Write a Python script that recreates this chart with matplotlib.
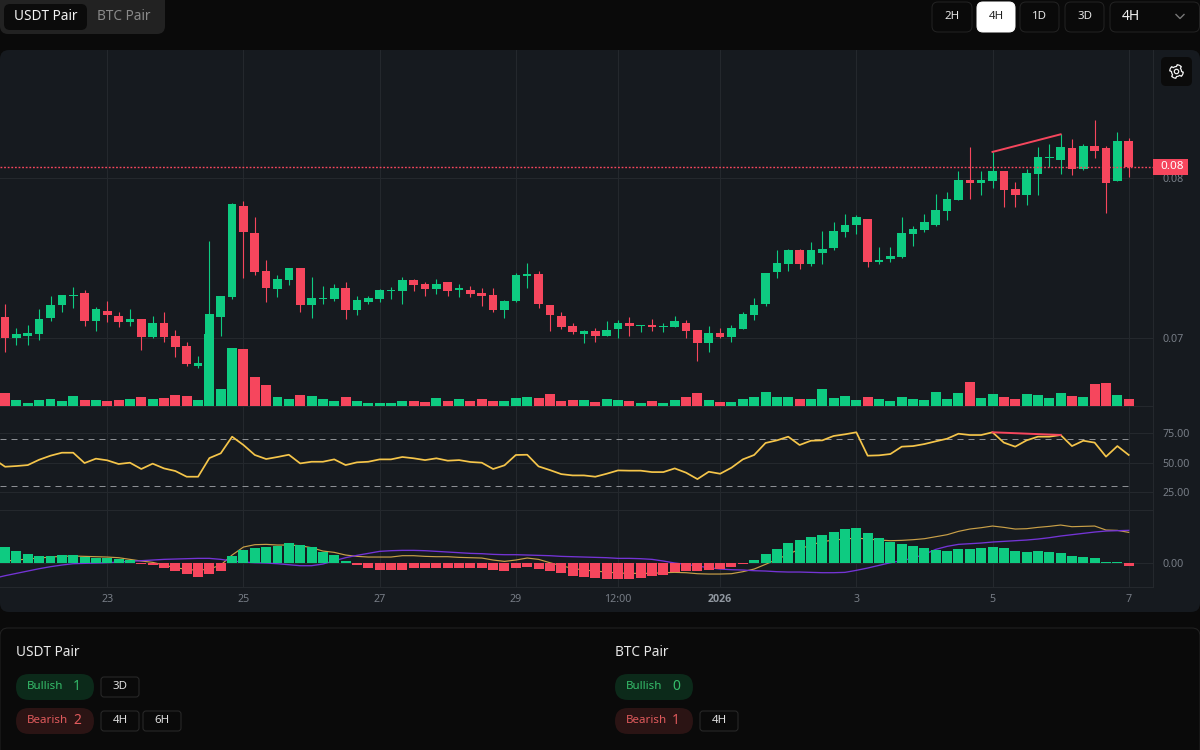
import numpy as np
import matplotlib
matplotlib.use('Agg')
import matplotlib.pyplot as plt
from matplotlib.patches import FancyBboxPatch, Rectangle, Circle, Polygon

plt.rcParams['font.family'] = ['Noto Sans', 'DejaVu Sans']

# prices, in units of 0.0001
open_vals = [713.3, 699.8, 701.2, 702.7, 712.7, 720.4, 726.2, 728.1, 710.4, 716.9,
             714.0, 709.8, 712.1, 700.4, 709.2, 701.0, 695.0, 682.7, 684.6, 713.3,
             725.6, 782.5, 765.6, 741.9, 730.4, 736.3, 743.8, 720.4, 724.4, 724.4,
             731.0, 717.5, 722.7, 724.4, 729.2, 729.2, 736.3, 733.8, 730.4, 735.0,
             730.2, 729.8, 728.1, 726.9, 717.5, 723.3, 738.5, 739.8, 720.8, 714.0,
             707.5, 702.7, 704.4, 701.5, 705.6, 709.2, 707.5, 708.1, 706.9, 706.9,
             709.2, 705.0, 696.9, 703.3, 700.4, 705.6, 714.4, 721.5, 741.5, 746.3,
             755.0, 746.3, 753.3, 756.3, 766.3, 770.4, 774.4, 747.5, 749.2, 750.4,
             765.0, 767.5, 770.8, 779.2, 786.3, 798.5, 796.9, 797.9, 804.4, 793.1,
             789.2, 802.7, 812.7, 811.5, 818.5, 805.6, 820.2, 818.5, 797.9, 823.1]
close_vals = [699.8, 702.3, 703.3, 712.1, 720.4, 726.9, 726.9, 710.4, 718.1, 714.4,
              709.8, 712.1, 700.4, 709.2, 700.4, 694.6, 684.0, 684.6, 715.0, 726.2,
              783.8, 766.2, 741.5, 731.5, 736.9, 743.8, 720.4, 725.0, 725.2, 731.0,
              717.5, 723.8, 725.0, 729.8, 730.0, 736.3, 733.1, 730.4, 733.8, 729.2,
              731.3, 727.5, 726.2, 717.5, 723.1, 739.2, 739.8, 721.5, 714.4, 706.9,
              703.8, 704.4, 701.5, 705.0, 709.2, 707.5, 708.1, 706.9, 707.5, 710.4,
              704.4, 696.9, 703.3, 700.4, 706.3, 715.0, 720.8, 740.8, 746.9, 755.0,
              746.3, 755.0, 755.6, 766.9, 770.8, 775.6, 747.5, 748.5, 751.0, 765.6,
              767.9, 772.7, 779.8, 786.9, 798.5, 796.9, 798.5, 804.4, 792.7, 789.2,
              803.1, 813.1, 813.1, 819.2, 805.6, 820.2, 816.9, 796.9, 823.1, 806.9]
high_vals = [721.0, 706.0, 708.1, 718.1, 726.2, 726.9, 732.1, 730.0, 719.4, 723.1,
             716.2, 718.1, 712.1, 714.0, 716.2, 705.0, 697.5, 688.7, 760.8, 726.2,
             784.4, 785.6, 775.4, 748.5, 739.2, 743.8, 743.8, 737.9, 732.7, 733.8,
             735.0, 726.2, 726.2, 730.8, 732.1, 737.9, 736.9, 735.0, 736.9, 735.0,
             733.8, 732.7, 731.0, 731.0, 723.8, 740.8, 746.9, 742.1, 720.8, 716.2,
             709.2, 705.0, 706.3, 710.4, 711.0, 713.3, 708.1, 712.1, 709.2, 714.0,
             711.0, 705.0, 707.5, 706.3, 708.1, 716.2, 725.0, 740.8, 755.0, 755.6,
             755.6, 759.8, 766.9, 772.7, 777.5, 776.9, 774.4, 756.9, 756.9, 775.6,
             769.8, 777.5, 789.8, 791.5, 804.4, 819.2, 804.4, 816.3, 804.4, 797.3,
             805.6, 819.2, 821.5, 827.3, 824.4, 821.5, 836.3, 820.2, 829.0, 825.0]
low_vals = [691.0, 695.6, 695.6, 698.7, 710.4, 716.2, 718.7, 707.5, 704.6, 709.8,
            706.9, 707.5, 692.7, 699.8, 697.5, 688.1, 682.7, 681.0, 684.0, 701.5,
            724.4, 737.5, 739.2, 722.7, 725.6, 733.1, 716.2, 712.7, 721.5, 723.1,
            711.7, 714.4, 721.5, 722.7, 724.4, 721.5, 729.2, 726.2, 727.5, 726.2,
            725.6, 725.6, 720.2, 716.2, 712.7, 722.7, 731.5, 718.5, 704.4, 705.6,
            702.7, 696.9, 697.5, 701.5, 699.8, 701.5, 703.8, 704.4, 703.8, 706.9,
            699.8, 685.6, 691.5, 699.8, 697.5, 705.6, 711.5, 719.8, 737.3, 742.1,
            743.3, 745.0, 746.3, 755.0, 763.3, 765.0, 744.4, 746.3, 747.5, 749.8,
            757.5, 766.3, 770.2, 773.8, 786.3, 786.9, 789.2, 793.8, 782.1, 782.1,
            783.1, 789.2, 806.9, 802.7, 802.1, 805.0, 812.7, 777.9, 797.9, 800.8]
volume = [13.3, 5.7, 3, 5.7, 6.7, 4.7, 10.3, 5.7, 5.7, 4.7,
          5.7, 6.7, 9.3, 6.7, 7.7, 11.3, 10.3, 5.7, 71.7, 17,
          58.3, 57.3, 29, 20.7, 9.3, 6.7, 11.3, 10.3, 6.7, 4.7,
          9.3, 4.7, 3, 3, 3, 4.7, 4.7, 3.7, 7.7, 4.7,
          6.7, 4.7, 6.7, 4.7, 4.7, 7.7, 8.7, 7.7, 12.3, 4.7,
          5.7, 5.7, 3.7, 6.7, 5.7, 4.7, 3, 4.7, 3, 5.7,
          9.3, 13.3, 5.7, 3.7, 3.7, 6.7, 8.7, 14, 9.3, 9.3,
          7.3, 7.3, 16.7, 8.3, 10.3, 6.3, 9.3, 7.3, 4.7, 9.3,
          7.3, 6.3, 14, 7.3, 13, 24.3, 8.3, 12, 9.3, 7.3,
          12, 11, 8.3, 13, 10.3, 9.3, 21.7, 22.7, 11, 6.7]

# line series start one bar before the first candle
rsi = [53.1, 46.6, 47.2, 48.0, 52.5, 55.9, 58.4, 58.4, 49.7, 53.4, 52.0,
       48.9, 50.0, 44.7, 49.2, 45.2, 43.0, 38.2, 38.2, 53.9, 57.9,
       71.9, 64.9, 56.5, 53.1, 54.8, 56.7, 49.4, 50.8, 50.8, 52.8,
       48.0, 50.3, 50.8, 52.8, 52.8, 54.8, 53.7, 52.2, 53.7, 51.7,
       52.2, 50.6, 50.0, 44.7, 47.8, 56.5, 56.7, 46.9, 43.8, 40.4,
       39.3, 39.3, 38.2, 40.7, 43.5, 43.3, 43.3, 42.1, 42.1, 45.2,
       41.6, 36.2, 42.4, 40.7, 45.8, 52.8, 56.5, 66.6, 68.8, 71.9,
       64.9, 68.5, 68.8, 72.5, 73.9, 75.6, 55.9, 56.2, 57.3, 63.5,
       64.0, 65.7, 68.0, 70.2, 74.4, 73.3, 73.3, 75.6, 66.9, 63.5,
       68.8, 71.9, 71.9, 73.3, 64.0, 68.5, 66.9, 55.1, 64.0, 56.5]
macd_line = [5, 7, 10, 13, 16, 19, 21, 22, 21, 20, 19,
             17, 12, 7, 3, -5, -13, -18, -21, -17, -5,
             25, 49, 56, 57, 55, 55, 53, 47, 37, 33,
             25, 21, 19, 19, 19, 23, 23, 21, 20, 20,
             18, 17, 16, 10, 6, 10, 16, 12, 2, -7,
             -15, -20, -23, -26, -29, -30, -30, -30, -28, -27,
             -28, -31, -32, -32, -31, -25, -17, -3, 12, 27,
             43, 55, 65, 70, 73, 76, 73, 70, 68, 69,
             71, 74, 80, 86, 96, 103, 107, 112, 108, 103,
             104, 108, 111, 115, 110, 111, 112, 100, 99, 93]
signal_line = [-45, -37, -30, -23, -16, -10, -5, -1, 0, 1, 2,
               4, 6, 8, 10, 12, 13, 14, 15, 15, 12,
               7, 4, 2, 1, -1, -4, -7, -7, -2, 8,
               17, 24, 30, 36, 38, 39, 39, 38, 36, 34,
               32, 30, 29, 27, 26, 26, 25, 24, 23, 21,
               20, 19, 18, 17, 15, 15, 14, 12, 7, 1,
               -3, -8, -13, -17, -19, -20, -22, -23, -25, -26,
               -26, -27, -28, -28, -27, -21, -14, -6, 2, 8,
               16, 27, 42, 51, 57, 59, 61, 64, 66, 68,
               70, 73, 77, 82, 86, 90, 94, 97, 98, 99]
macd_hist = [49, 37, 27, 21, 21, 24, 24, 18, 15, 15,
             13, 10, -2, -5, -13, -22, -32, -41, -32, -22,
             22, 41, 46, 50, 52, 60, 55, 49, 35, 24,
             7, -4, -13, -19, -19, -19, -15, -15, -15, -15,
             -15, -15, -15, -19, -22, -15, -10, -17, -22, -30,
             -38, -41, -44, -47, -47, -47, -44, -38, -35, -27,
             -22, -22, -20, -17, -10, -2, 10, 27, 44, 60,
             69, 80, 85, 93, 102, 105, 91, 76, 63, 57,
             51, 45, 40, 37, 43, 43, 45, 48, 45, 37,
             34, 37, 34, 31, 23, 20, 15, 4, 4, -8]

div_x = [87, 93]
div_price = [816.3, 827.3]
div_rsi = [75.6, 73.3]

tick_pos = [9, 21, 33, 45, 54, 63, 75, 87, 99]
tick_labels = ['23', '25', '27', '29', '12:00', '2026', '3', '5', '7']

GREEN = '#0ecb81'
RED = '#f6465d'
BG = '#0a0a0a'
PANEL = '#161a1f'
GRID = '#24282d'
TXT = '#777d86'
W, H = 1200, 750
XLIM = (-0.45, 101.14)
THIN = 0.72  # one pixel at 100 dpi


def ax_px(fig, top, bottom, right=1153):
    return fig.add_axes([0, 1 - bottom / H, right / W, (bottom - top) / H])


def box(ax, x0, y0, x1, y1, r, fc, ec='none', lw=THIN, z=1):
    ax.add_patch(FancyBboxPatch((x0, y0), x1 - x0, y1 - y0, boxstyle=f'round,pad=0,rounding_size={r}',
                                fc=fc, ec=ec, lw=lw, zorder=z))


def style_panel(ax):
    ax.set_facecolor('none')
    ax.set_xlim(*XLIM)
    ax.set_xticks(tick_pos)
    ax.grid(True, color=GRID, lw=THIN)
    ax.set_axisbelow(True)
    for s in ['top', 'left']:
        ax.spines[s].set_visible(False)
    for s in ['right', 'bottom']:
        ax.spines[s].set_color(GRID)
        ax.spines[s].set_linewidth(THIN)
    ax.yaxis.tick_right()
    ax.tick_params(axis='y', length=0, pad=6.5, labelsize=7.7, labelcolor=TXT)
    ax.tick_params(axis='x', length=0, labelbottom=False)


fig = plt.figure(figsize=(12, 7.5), dpi=100, facecolor=BG)

# page furniture, drawn in pixel coordinates
ui = fig.add_axes([0, 0, 1, 1], zorder=0)
ui.set_xlim(0, W)
ui.set_ylim(H, 0)
ui.axis('off')

box(ui, 0, 50, 1200, 612, 9, PANEL)

box(ui, 0, -10, 165, 34, 8, '#222222')
box(ui, 4, 4, 87, 30, 6, '#0b0b0b')
ui.text(45.5, 17, 'USDT Pair', color='#f2f2f2', fontsize=9.8, ha='center', va='center')
ui.text(124, 17, 'BTC Pair', color='#8a8a8a', fontsize=9.8, ha='center', va='center')

for x0, x1, label, active in [(932, 972, '2H', False), (977, 1015, '4H', True),
                              (1020, 1059, '1D', False), (1065, 1104, '3D', False)]:
    box(ui, x0, 2, x1, 32, 6, '#ffffff' if active else BG, '#ffffff' if active else '#232323')
    ui.text((x0 + x1) / 2, 16.5, label, color='#222222' if active else '#e6e6e6', fontsize=8.3,
            ha='center', va='center')
box(ui, 1110, 2, 1199.5, 32, 6, BG, '#232323')
ui.text(1122, 17, '4H', color='#f0f0f0', fontsize=10, va='center')
ui.plot([1176, 1180, 1184], [14.5, 18.5, 14.5], color='#777777', lw=1)

# settings button, gear outline
box(ui, 1161, 57, 1192, 86, 5, '#0b0b0b')
ang = np.linspace(0, 2 * np.pi, 65)
rad = np.where(np.sin(4 * ang) > 0, 6.8, 5.0)
ui.add_patch(Polygon(np.c_[1176.5 + rad * np.cos(ang), 71.5 + rad * np.sin(ang)], closed=True, fc='none',
                     ec='#f0f0f0', lw=0.9, zorder=2, joinstyle='round'))
ui.add_patch(Circle((1176.5, 71.5), 2.2, fc='none', ec='#f0f0f0', lw=0.9, zorder=2))

box(ui, 0, 628, 1200, 760, 8, BG, '#232323')


def signal_block(x, title, bull, bear, bull_tf, bear_tf):
    ui.text(x, 653, title, color='#e8e8e8', fontsize=9.8, va='center')
    for y0, col, fill, name, n, tfs in [(674, '#35bd6a', '#0c2a1a', 'Bullish', bull, bull_tf),
                                        (708, '#e05a5c', '#2b1414', 'Bearish', bear, bear_tf)]:
        box(ui, x, y0, x + 78, y0 + 26, 13, fill)
        ui.text(x + 11, y0 + 12.5, name, color=col, fontsize=8.3, va='center')
        ui.text(x + 57, y0 + 12.5, str(n), color=col, fontsize=10, va='center')
        bx = x + 85
        for tf in tfs:
            box(ui, bx, y0 + 3, bx + 38, y0 + 23, 3, BG, '#2a2a2a')
            ui.text(bx + 19, y0 + 12.5, tf, color='#e0e0e0', fontsize=8.3, ha='center', va='center')
            bx += 42


signal_block(16, 'USDT Pair', 1, 2, ['3D'], ['4H', '6H'])
signal_block(615, 'BTC Pair', 0, 1, [], ['4H'])

# price panel
idx = np.arange(len(close_vals))
line_x = np.arange(-1, len(close_vals))
o = np.array(open_vals) / 10000
c = np.array(close_vals) / 10000
hi = np.array(high_vals) / 10000
lo = np.array(low_vals) / 10000
colors = [GREEN if cc >= oo else RED for oo, cc in zip(o, c)]

ax = ax_px(fig, 50, 406)
ax.set_zorder(1)
style_panel(ax)
ax.set_ylim(0.06575, 0.088)
ax.set_yticks([0.07, 0.08])
ax.set_yticklabels(['0.07', '0.08'])
ax.vlines(idx, lo, hi, colors=colors, lw=0.8, zorder=2)
ax.bar(idx, np.abs(c - o), bottom=np.minimum(o, c), width=0.76, color=colors, zorder=3)
ax.plot(div_x, np.array(div_price) / 10000, color=RED, lw=1.4, zorder=4)
ax.axhline(c[-1], color=RED, lw=1.0, ls=(0, (1.3, 1.3)), zorder=4)

# volume shares the bottom of the price panel
vol = ax.twinx()
vol.set_zorder(2)
vol.set_facecolor('none')
vol.set_ylim(0, 356)
vol.set_yticks([])
for s in vol.spines.values():
    s.set_visible(False)
vol.bar(idx, volume, width=0.88, color=colors)
ax.yaxis.tick_right()  # twinx moves them to the left

trans = ax.get_yaxis_transform()
ax.add_patch(Rectangle((1.0, c[-1] - 0.0005), 0.0304, 0.001, transform=trans, fc=RED, ec='none',
                       clip_on=False, zorder=6))
ax.text(1.0165, c[-1], '0.08', transform=trans, color='white', fontsize=8.4, ha='center', va='center',
        clip_on=False, zorder=7)

# RSI panel
ax2 = ax_px(fig, 406, 509.7)
ax2.set_zorder(1)
style_panel(ax2)
ax2.set_ylim(50 + (462.7 - 509.7) * 25 / 29.7, 50 + (462.7 - 406) * 25 / 29.7)
ax2.set_yticks([25, 50, 75])
ax2.set_yticklabels(['25.00', '50.00', '75.00'])
ax2.hlines([30, 70], XLIM[0], 99, colors='#8c8f94', lw=THIN, linestyles=(0, (6, 5)), zorder=2)
ax2.plot(line_x, rsi, color='#f5c54a', lw=1.25, zorder=3)
ax2.plot(div_x, div_rsi, color=RED, lw=1.4, zorder=4)

# MACD panel
ax3 = ax_px(fig, 509.7, 586.7)
ax3.set_zorder(1)
style_panel(ax3)
ax3.set_ylim(-70, 161)
ax3.set_yticks([0])
ax3.set_yticklabels(['0.00'])
ax3.plot(line_x, macd_line, color='#c9a048', lw=0.85, zorder=2)
ax3.plot(line_x, signal_line, color='#7434d6', lw=0.95, zorder=2)
ax3.bar(idx, macd_hist, width=0.88, color=[GREEN if v >= 0 else RED for v in macd_hist], zorder=3)
ax3.tick_params(axis='x', labelbottom=True, pad=5.5, labelsize=7.7, labelcolor=TXT)
ax3.set_xticklabels(tick_labels)
year_label = ax3.get_xticklabels()[tick_labels.index('2026')]
year_label.set_fontweight('bold')
year_label.set_family(['Open Sans', 'DejaVu Sans'])
year_label.set_color('#9097a0')

fig.savefig('out.png', dpi=100, facecolor=BG)
